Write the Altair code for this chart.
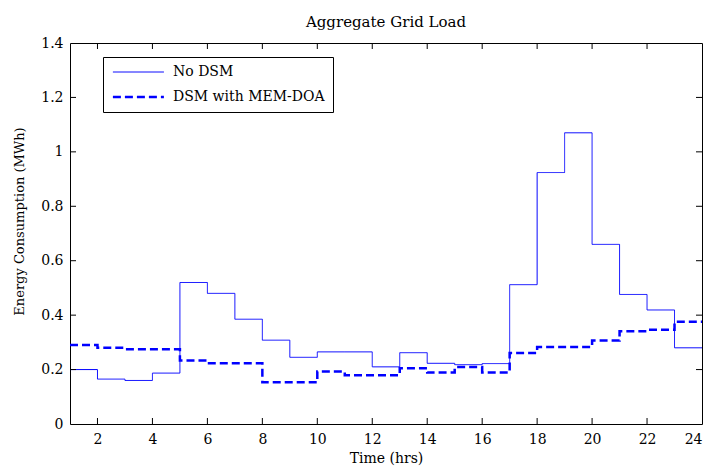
import altair as alt
import pandas as pd

hours = list(range(1, 25))
no_dsm = [0.20, 0.165, 0.16, 0.187, 0.52, 0.48, 0.385, 0.308, 0.245, 0.265, 0.265, 0.21,
          0.262, 0.223, 0.218, 0.222, 0.512, 0.924, 1.07, 0.66, 0.476, 0.419, 0.28, 0.28]
dsm = [0.29, 0.28, 0.275, 0.275, 0.233, 0.223, 0.223, 0.153, 0.153, 0.193, 0.179, 0.179,
       0.205, 0.189, 0.209, 0.189, 0.261, 0.283, 0.283, 0.307, 0.341, 0.346, 0.376, 0.376]
series_names = ["No DSM", "DSM with MEM-DOA"]
x_ticks = [2, 4, 6, 8, 10, 12, 14, 16, 18, 20, 22, 24]
y_ticks = [0, 0.2, 0.4, 0.6, 0.8, 1.0, 1.2, 1.4]

W, H = 632, 381
FONT = "DejaVu Serif"

df = pd.DataFrame({
    "hour": hours * 2,
    "value": no_dsm + dsm,
    "series": [series_names[0]] * len(hours) + [series_names[1]] * len(hours),
})

xscale = alt.Scale(domain=[1, 24], nice=False, zero=False)
yscale = alt.Scale(domain=[0, 1.4], nice=False)

lines = alt.Chart(df).mark_line(interpolate="step-after").encode(
    x=alt.X("hour:Q", scale=xscale,
            axis=alt.Axis(values=x_ticks, ticks=False, domain=False, grid=False,
                          labelPadding=8, labelFontSize=14, labelFont=FONT,
                          title="Time (hrs)", titleFont=FONT, titleFontSize=14,
                          titleFontWeight="normal", titleY=38, titleBaseline="alphabetic")),
    y=alt.Y("value:Q", scale=yscale,
            axis=alt.Axis(values=y_ticks, ticks=False, domain=False, grid=False, format="~g",
                          labelPadding=7, labelFontSize=14, labelFont=FONT,
                          title="Energy Consumption (MWh)", titleFont=FONT, titleFontSize=13,
                          titleFontWeight="normal", titleX=-44, titleY=178)),
    color=alt.Color("series:N", scale=alt.Scale(domain=series_names, range=["#0000ff", "#0000ff"]),
                    legend=alt.Legend(title=None, orient="none", legendX=33, legendY=14,
                                      strokeColor="black", fillColor="white", padding=8,
                                      symbolType="M-1,0H9", symbolSize=104, labelFont=FONT,
                                      labelFontSize=14, rowPadding=11, labelOffset=48,
                                      cornerRadius=0)),
    strokeDash=alt.StrokeDash("series:N", scale=alt.Scale(domain=series_names, range=[[1, 0], [8, 4]])),
    strokeWidth=alt.StrokeWidth("series:N", scale=alt.Scale(domain=series_names, range=[1, 2.5])),
)

xt = pd.DataFrame({"t": x_ticks[:-1]})
yt = pd.DataFrame({"t": [0.2, 0.4, 0.6, 0.8, 1.0, 1.2]})
TL = 6
tick_style = dict(color="black", strokeWidth=1)
bottom = alt.Chart(xt).mark_rule(**tick_style).encode(
    x=alt.X("t:Q", scale=xscale), y=alt.value(H), y2=alt.value(H - TL))
top = alt.Chart(xt).mark_rule(**tick_style).encode(
    x=alt.X("t:Q", scale=xscale), y=alt.value(0), y2=alt.value(TL))
left = alt.Chart(yt).mark_rule(**tick_style).encode(
    y=alt.Y("t:Q", scale=yscale), x=alt.value(0), x2=alt.value(TL))
right = alt.Chart(yt).mark_rule(**tick_style).encode(
    y=alt.Y("t:Q", scale=yscale), x=alt.value(W), x2=alt.value(W - TL))

chart = alt.layer(lines, bottom, top, left, right).properties(
    width=W, height=H,
    title=alt.TitleParams("Aggregate Grid Load", font=FONT, fontSize=15, fontWeight="normal",
                          anchor="middle", offset=6, color="black"),
    autosize=alt.AutoSizeParams(type="none"),
    padding={"left": 70, "top": 43, "right": 7, "bottom": 42},
).configure_view(stroke="black", strokeWidth=1).configure_axis(
    labelColor="black", titleColor="black"
)

chart.save("out.html", embed_options={"renderer": "svg", "actions": False})
